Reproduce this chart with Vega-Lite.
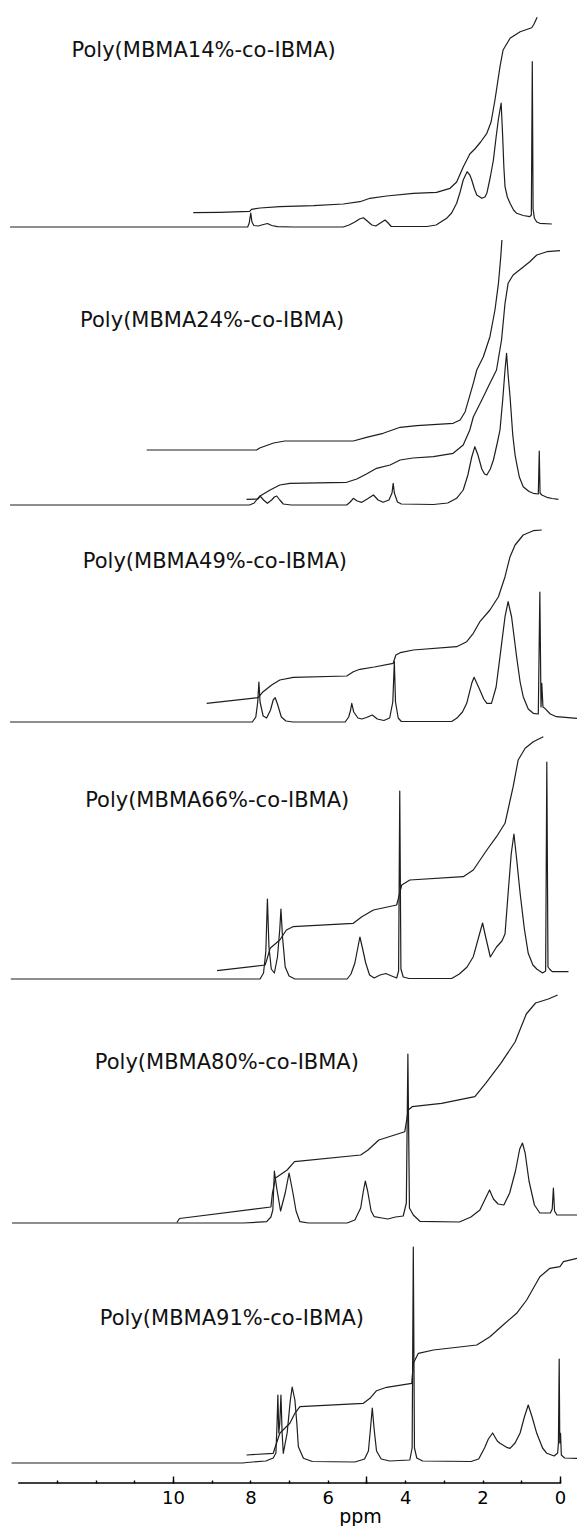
{
"$schema": "https://vega.github.io/schema/vega-lite/v6.json",
"padding": 0,
"spacing": 0,
"bounds": "flush",
"background": "white",
"config": {"view": {"stroke": null}, "font": "DejaVu Sans", "line": {"strokeJoin": "round"}},
"datasets": {
"labels": [
{"sample":"14%","label":"Poly(MBMA14%-co-IBMA)"},
{"sample":"24%","label":"Poly(MBMA24%-co-IBMA)"},
{"sample":"49%","label":"Poly(MBMA49%-co-IBMA)"},
{"sample":"66%","label":"Poly(MBMA66%-co-IBMA)"},
{"sample":"80%","label":"Poly(MBMA80%-co-IBMA)"},
{"sample":"91%","label":"Poly(MBMA91%-co-IBMA)"}
],
"nmr": [
{"sample":"14%","trace":"spectrum","ppm":14.21,"signal":0},
{"sample":"14%","trace":"spectrum","ppm":8.07,"signal":0},
{"sample":"14%","trace":"spectrum","ppm":8.03,"signal":4},
{"sample":"14%","trace":"spectrum","ppm":7.99,"signal":14},
{"sample":"14%","trace":"spectrum","ppm":7.96,"signal":5},
{"sample":"14%","trace":"spectrum","ppm":7.91,"signal":1.5},
{"sample":"14%","trace":"spectrum","ppm":7.8,"signal":1},
{"sample":"14%","trace":"spectrum","ppm":7.66,"signal":2.5},
{"sample":"14%","trace":"spectrum","ppm":7.56,"signal":3.5},
{"sample":"14%","trace":"spectrum","ppm":7.45,"signal":1.5},
{"sample":"14%","trace":"spectrum","ppm":7.3,"signal":0.3},
{"sample":"14%","trace":"spectrum","ppm":6.9,"signal":0},
{"sample":"14%","trace":"spectrum","ppm":5.6,"signal":0},
{"sample":"14%","trace":"spectrum","ppm":5.45,"signal":2},
{"sample":"14%","trace":"spectrum","ppm":5.3,"signal":5},
{"sample":"14%","trace":"spectrum","ppm":5.18,"signal":8},
{"sample":"14%","trace":"spectrum","ppm":5.08,"signal":9.3},
{"sample":"14%","trace":"spectrum","ppm":4.98,"signal":6},
{"sample":"14%","trace":"spectrum","ppm":4.86,"signal":2},
{"sample":"14%","trace":"spectrum","ppm":4.76,"signal":1},
{"sample":"14%","trace":"spectrum","ppm":4.64,"signal":4},
{"sample":"14%","trace":"spectrum","ppm":4.52,"signal":7},
{"sample":"14%","trace":"spectrum","ppm":4.44,"signal":4},
{"sample":"14%","trace":"spectrum","ppm":4.36,"signal":0.5},
{"sample":"14%","trace":"spectrum","ppm":3.44,"signal":0.5},
{"sample":"14%","trace":"spectrum","ppm":3.2,"signal":2},
{"sample":"14%","trace":"spectrum","ppm":2.93,"signal":8.7},
{"sample":"14%","trace":"spectrum","ppm":2.8,"signal":14},
{"sample":"14%","trace":"spectrum","ppm":2.67,"signal":23.7},
{"sample":"14%","trace":"spectrum","ppm":2.58,"signal":35},
{"sample":"14%","trace":"spectrum","ppm":2.5,"signal":47},
{"sample":"14%","trace":"spectrum","ppm":2.4,"signal":55.3},
{"sample":"14%","trace":"spectrum","ppm":2.33,"signal":52},
{"sample":"14%","trace":"spectrum","ppm":2.28,"signal":47},
{"sample":"14%","trace":"spectrum","ppm":2.21,"signal":38},
{"sample":"14%","trace":"spectrum","ppm":2.15,"signal":32},
{"sample":"14%","trace":"spectrum","ppm":2.02,"signal":28.7},
{"sample":"14%","trace":"spectrum","ppm":1.94,"signal":30},
{"sample":"14%","trace":"spectrum","ppm":1.89,"signal":33.7},
{"sample":"14%","trace":"spectrum","ppm":1.8,"signal":50},
{"sample":"14%","trace":"spectrum","ppm":1.72,"signal":67},
{"sample":"14%","trace":"spectrum","ppm":1.65,"signal":90},
{"sample":"14%","trace":"spectrum","ppm":1.59,"signal":108},
{"sample":"14%","trace":"spectrum","ppm":1.52,"signal":124},
{"sample":"14%","trace":"spectrum","ppm":1.48,"signal":90},
{"sample":"14%","trace":"spectrum","ppm":1.45,"signal":60},
{"sample":"14%","trace":"spectrum","ppm":1.42,"signal":40.3},
{"sample":"14%","trace":"spectrum","ppm":1.36,"signal":30},
{"sample":"14%","trace":"spectrum","ppm":1.29,"signal":23.7},
{"sample":"14%","trace":"spectrum","ppm":1.2,"signal":17},
{"sample":"14%","trace":"spectrum","ppm":1.12,"signal":13.7},
{"sample":"14%","trace":"spectrum","ppm":0.95,"signal":11.5},
{"sample":"14%","trace":"spectrum","ppm":0.78,"signal":10.3},
{"sample":"14%","trace":"spectrum","ppm":0.74,"signal":12},
{"sample":"14%","trace":"spectrum","ppm":0.715,"signal":165.3},
{"sample":"14%","trace":"spectrum","ppm":0.695,"signal":18},
{"sample":"14%","trace":"spectrum","ppm":0.66,"signal":8.7},
{"sample":"14%","trace":"spectrum","ppm":0.6,"signal":5},
{"sample":"14%","trace":"spectrum","ppm":0.52,"signal":3.7},
{"sample":"14%","trace":"spectrum","ppm":0.21,"signal":3},
{"sample":"14%","trace":"integral","ppm":9.475,"signal":14.3},
{"sample":"14%","trace":"integral","ppm":8.79,"signal":14.7},
{"sample":"14%","trace":"integral","ppm":8.02,"signal":15.7},
{"sample":"14%","trace":"integral","ppm":7.97,"signal":17.7},
{"sample":"14%","trace":"integral","ppm":7.75,"signal":19},
{"sample":"14%","trace":"integral","ppm":7.24,"signal":20.3},
{"sample":"14%","trace":"integral","ppm":6.37,"signal":21.3},
{"sample":"14%","trace":"integral","ppm":5.6,"signal":23},
{"sample":"14%","trace":"integral","ppm":5.17,"signal":25.3},
{"sample":"14%","trace":"integral","ppm":4.91,"signal":28.7},
{"sample":"14%","trace":"integral","ppm":4.48,"signal":31},
{"sample":"14%","trace":"integral","ppm":3.79,"signal":33.7},
{"sample":"14%","trace":"integral","ppm":3.19,"signal":34.7},
{"sample":"14%","trace":"integral","ppm":2.84,"signal":38.7},
{"sample":"14%","trace":"integral","ppm":2.67,"signal":45},
{"sample":"14%","trace":"integral","ppm":2.5,"signal":60},
{"sample":"14%","trace":"integral","ppm":2.33,"signal":73},
{"sample":"14%","trace":"integral","ppm":2.2,"signal":78},
{"sample":"14%","trace":"integral","ppm":2.05,"signal":85},
{"sample":"14%","trace":"integral","ppm":1.89,"signal":93.7},
{"sample":"14%","trace":"integral","ppm":1.78,"signal":105},
{"sample":"14%","trace":"integral","ppm":1.68,"signal":127},
{"sample":"14%","trace":"integral","ppm":1.55,"signal":160.3},
{"sample":"14%","trace":"integral","ppm":1.47,"signal":177},
{"sample":"14%","trace":"integral","ppm":1.29,"signal":188.7},
{"sample":"14%","trace":"integral","ppm":1.03,"signal":195.3},
{"sample":"14%","trace":"integral","ppm":0.73,"signal":199.3},
{"sample":"14%","trace":"integral","ppm":0.67,"signal":203},
{"sample":"14%","trace":"integral","ppm":0.59,"signal":209.7},

{"sample":"24%","trace":"spectrum","ppm":14.21,"signal":0},
{"sample":"24%","trace":"spectrum","ppm":8.02,"signal":0},
{"sample":"24%","trace":"spectrum","ppm":7.9,"signal":2},
{"sample":"24%","trace":"spectrum","ppm":7.82,"signal":6},
{"sample":"24%","trace":"spectrum","ppm":7.75,"signal":9},
{"sample":"24%","trace":"spectrum","ppm":7.66,"signal":5},
{"sample":"24%","trace":"spectrum","ppm":7.56,"signal":1.7},
{"sample":"24%","trace":"spectrum","ppm":7.45,"signal":5},
{"sample":"24%","trace":"spectrum","ppm":7.38,"signal":8},
{"sample":"24%","trace":"spectrum","ppm":7.32,"signal":9},
{"sample":"24%","trace":"spectrum","ppm":7.24,"signal":5},
{"sample":"24%","trace":"spectrum","ppm":7.15,"signal":1},
{"sample":"24%","trace":"spectrum","ppm":6.95,"signal":0},
{"sample":"24%","trace":"spectrum","ppm":5.51,"signal":0},
{"sample":"24%","trace":"spectrum","ppm":5.42,"signal":3},
{"sample":"24%","trace":"spectrum","ppm":5.34,"signal":6.7},
{"sample":"24%","trace":"spectrum","ppm":5.24,"signal":4},
{"sample":"24%","trace":"spectrum","ppm":5.12,"signal":2.7},
{"sample":"24%","trace":"spectrum","ppm":4.98,"signal":6},
{"sample":"24%","trace":"spectrum","ppm":4.82,"signal":10},
{"sample":"24%","trace":"spectrum","ppm":4.7,"signal":5},
{"sample":"24%","trace":"spectrum","ppm":4.57,"signal":2.7},
{"sample":"24%","trace":"spectrum","ppm":4.42,"signal":5},
{"sample":"24%","trace":"spectrum","ppm":4.34,"signal":12},
{"sample":"24%","trace":"spectrum","ppm":4.31,"signal":21.7},
{"sample":"24%","trace":"spectrum","ppm":4.28,"signal":12},
{"sample":"24%","trace":"spectrum","ppm":4.2,"signal":3},
{"sample":"24%","trace":"spectrum","ppm":4.1,"signal":1},
{"sample":"24%","trace":"spectrum","ppm":3.27,"signal":0.5},
{"sample":"24%","trace":"spectrum","ppm":2.9,"signal":2},
{"sample":"24%","trace":"spectrum","ppm":2.67,"signal":6.7},
{"sample":"24%","trace":"spectrum","ppm":2.5,"signal":15},
{"sample":"24%","trace":"spectrum","ppm":2.38,"signal":30},
{"sample":"24%","trace":"spectrum","ppm":2.28,"signal":48},
{"sample":"24%","trace":"spectrum","ppm":2.2,"signal":58.3},
{"sample":"24%","trace":"spectrum","ppm":2.12,"signal":50},
{"sample":"24%","trace":"spectrum","ppm":2.02,"signal":36},
{"sample":"24%","trace":"spectrum","ppm":1.95,"signal":31},
{"sample":"24%","trace":"spectrum","ppm":1.89,"signal":30},
{"sample":"24%","trace":"spectrum","ppm":1.8,"signal":36},
{"sample":"24%","trace":"spectrum","ppm":1.72,"signal":45},
{"sample":"24%","trace":"spectrum","ppm":1.62,"signal":62},
{"sample":"24%","trace":"spectrum","ppm":1.55,"signal":75},
{"sample":"24%","trace":"spectrum","ppm":1.48,"signal":105},
{"sample":"24%","trace":"spectrum","ppm":1.42,"signal":135},
{"sample":"24%","trace":"spectrum","ppm":1.38,"signal":151.7},
{"sample":"24%","trace":"spectrum","ppm":1.34,"signal":130},
{"sample":"24%","trace":"spectrum","ppm":1.29,"signal":108.3},
{"sample":"24%","trace":"spectrum","ppm":1.22,"signal":70},
{"sample":"24%","trace":"spectrum","ppm":1.16,"signal":50},
{"sample":"24%","trace":"spectrum","ppm":1.12,"signal":41.7},
{"sample":"24%","trace":"spectrum","ppm":1.05,"signal":28},
{"sample":"24%","trace":"spectrum","ppm":0.95,"signal":18.3},
{"sample":"24%","trace":"spectrum","ppm":0.8,"signal":13.5},
{"sample":"24%","trace":"spectrum","ppm":0.69,"signal":11.7},
{"sample":"24%","trace":"spectrum","ppm":0.56,"signal":11},
{"sample":"24%","trace":"spectrum","ppm":0.535,"signal":54},
{"sample":"24%","trace":"spectrum","ppm":0.515,"signal":12},
{"sample":"24%","trace":"spectrum","ppm":0.47,"signal":10},
{"sample":"24%","trace":"spectrum","ppm":0.34,"signal":7.7},
{"sample":"24%","trace":"spectrum","ppm":0.2,"signal":6.5},
{"sample":"24%","trace":"spectrum","ppm":0.04,"signal":5.7},
{"sample":"24%","trace":"integral","ppm":10.68,"signal":55},
{"sample":"24%","trace":"integral","ppm":7.84,"signal":55},
{"sample":"24%","trace":"integral","ppm":7.76,"signal":57},
{"sample":"24%","trace":"integral","ppm":7.67,"signal":58.3},
{"sample":"24%","trace":"integral","ppm":7.4,"signal":62},
{"sample":"24%","trace":"integral","ppm":7.11,"signal":64},
{"sample":"24%","trace":"integral","ppm":5.34,"signal":64},
{"sample":"24%","trace":"integral","ppm":5.0,"signal":67.7},
{"sample":"24%","trace":"integral","ppm":4.57,"signal":71.7},
{"sample":"24%","trace":"integral","ppm":4.13,"signal":77.7},
{"sample":"24%","trace":"integral","ppm":3.7,"signal":79.3},
{"sample":"24%","trace":"integral","ppm":2.76,"signal":81.7},
{"sample":"24%","trace":"integral","ppm":2.58,"signal":85},
{"sample":"24%","trace":"integral","ppm":2.45,"signal":93.3},
{"sample":"24%","trace":"integral","ppm":2.24,"signal":121.7},
{"sample":"24%","trace":"integral","ppm":2.15,"signal":135},
{"sample":"24%","trace":"integral","ppm":1.98,"signal":148.3},
{"sample":"24%","trace":"integral","ppm":1.81,"signal":168.3},
{"sample":"24%","trace":"integral","ppm":1.68,"signal":195},
{"sample":"24%","trace":"integral","ppm":1.59,"signal":221.7},
{"sample":"24%","trace":"integral","ppm":1.53,"signal":248.3},
{"sample":"24%","trace":"integral","ppm":1.5,"signal":265},
{"sample":"24%","trace":"integral 2","ppm":8.1,"signal":5.7},
{"sample":"24%","trace":"integral 2","ppm":7.8,"signal":6},
{"sample":"24%","trace":"integral 2","ppm":7.75,"signal":9},
{"sample":"24%","trace":"integral 2","ppm":7.62,"signal":12},
{"sample":"24%","trace":"integral 2","ppm":7.49,"signal":15},
{"sample":"24%","trace":"integral 2","ppm":7.24,"signal":20},
{"sample":"24%","trace":"integral 2","ppm":6.98,"signal":21.7},
{"sample":"24%","trace":"integral 2","ppm":5.51,"signal":22.7},
{"sample":"24%","trace":"integral 2","ppm":5.25,"signal":26},
{"sample":"24%","trace":"integral 2","ppm":5.0,"signal":31},
{"sample":"24%","trace":"integral 2","ppm":4.74,"signal":36.7},
{"sample":"24%","trace":"integral 2","ppm":4.39,"signal":40},
{"sample":"24%","trace":"integral 2","ppm":4.13,"signal":45},
{"sample":"24%","trace":"integral 2","ppm":3.8,"signal":47},
{"sample":"24%","trace":"integral 2","ppm":3.27,"signal":48.3},
{"sample":"24%","trace":"integral 2","ppm":2.76,"signal":51.7},
{"sample":"24%","trace":"integral 2","ppm":2.5,"signal":60},
{"sample":"24%","trace":"integral 2","ppm":2.33,"signal":75},
{"sample":"24%","trace":"integral 2","ppm":2.24,"signal":88},
{"sample":"24%","trace":"integral 2","ppm":2.02,"signal":105},
{"sample":"24%","trace":"integral 2","ppm":1.81,"signal":121.7},
{"sample":"24%","trace":"integral 2","ppm":1.64,"signal":135},
{"sample":"24%","trace":"integral 2","ppm":1.51,"signal":165},
{"sample":"24%","trace":"integral 2","ppm":1.42,"signal":201.7},
{"sample":"24%","trace":"integral 2","ppm":1.34,"signal":221.7},
{"sample":"24%","trace":"integral 2","ppm":1.21,"signal":230},
{"sample":"24%","trace":"integral 2","ppm":0.99,"signal":236.7},
{"sample":"24%","trace":"integral 2","ppm":0.78,"signal":243.3},
{"sample":"24%","trace":"integral 2","ppm":0.6,"signal":250},
{"sample":"24%","trace":"integral 2","ppm":0.34,"signal":253.3},
{"sample":"24%","trace":"integral 2","ppm":0.0,"signal":254.3},

{"sample":"49%","trace":"spectrum","ppm":14.21,"signal":0},
{"sample":"49%","trace":"spectrum","ppm":7.95,"signal":0},
{"sample":"49%","trace":"spectrum","ppm":7.86,"signal":5},
{"sample":"49%","trace":"spectrum","ppm":7.81,"signal":20},
{"sample":"49%","trace":"spectrum","ppm":7.78,"signal":40},
{"sample":"49%","trace":"spectrum","ppm":7.75,"signal":20},
{"sample":"49%","trace":"spectrum","ppm":7.67,"signal":6},
{"sample":"49%","trace":"spectrum","ppm":7.58,"signal":4},
{"sample":"49%","trace":"spectrum","ppm":7.48,"signal":12},
{"sample":"49%","trace":"spectrum","ppm":7.41,"signal":22},
{"sample":"49%","trace":"spectrum","ppm":7.36,"signal":24.3},
{"sample":"49%","trace":"spectrum","ppm":7.3,"signal":18},
{"sample":"49%","trace":"spectrum","ppm":7.2,"signal":5},
{"sample":"49%","trace":"spectrum","ppm":7.08,"signal":1},
{"sample":"49%","trace":"spectrum","ppm":6.9,"signal":0},
{"sample":"49%","trace":"spectrum","ppm":5.55,"signal":0},
{"sample":"49%","trace":"spectrum","ppm":5.46,"signal":5},
{"sample":"49%","trace":"spectrum","ppm":5.41,"signal":12},
{"sample":"49%","trace":"spectrum","ppm":5.38,"signal":18.7},
{"sample":"49%","trace":"spectrum","ppm":5.33,"signal":10},
{"sample":"49%","trace":"spectrum","ppm":5.22,"signal":4},
{"sample":"49%","trace":"spectrum","ppm":5.12,"signal":3},
{"sample":"49%","trace":"spectrum","ppm":5.0,"signal":4.5},
{"sample":"49%","trace":"spectrum","ppm":4.85,"signal":7},
{"sample":"49%","trace":"spectrum","ppm":4.72,"signal":3},
{"sample":"49%","trace":"spectrum","ppm":4.55,"signal":1.5},
{"sample":"49%","trace":"spectrum","ppm":4.4,"signal":4},
{"sample":"49%","trace":"spectrum","ppm":4.32,"signal":20},
{"sample":"49%","trace":"spectrum","ppm":4.28,"signal":60.3},
{"sample":"49%","trace":"spectrum","ppm":4.25,"signal":20},
{"sample":"49%","trace":"spectrum","ppm":4.18,"signal":4},
{"sample":"49%","trace":"spectrum","ppm":4.1,"signal":0.5},
{"sample":"49%","trace":"spectrum","ppm":2.8,"signal":0.5},
{"sample":"49%","trace":"spectrum","ppm":2.67,"signal":3.7},
{"sample":"49%","trace":"spectrum","ppm":2.52,"signal":10},
{"sample":"49%","trace":"spectrum","ppm":2.41,"signal":18.7},
{"sample":"49%","trace":"spectrum","ppm":2.28,"signal":38.7},
{"sample":"49%","trace":"spectrum","ppm":2.22,"signal":44.7},
{"sample":"49%","trace":"spectrum","ppm":2.14,"signal":38},
{"sample":"49%","trace":"spectrum","ppm":2.07,"signal":32},
{"sample":"49%","trace":"spectrum","ppm":1.97,"signal":23},
{"sample":"49%","trace":"spectrum","ppm":1.89,"signal":18.7},
{"sample":"49%","trace":"spectrum","ppm":1.77,"signal":18.7},
{"sample":"49%","trace":"spectrum","ppm":1.65,"signal":35},
{"sample":"49%","trace":"spectrum","ppm":1.55,"signal":65.3},
{"sample":"49%","trace":"spectrum","ppm":1.42,"signal":105.3},
{"sample":"49%","trace":"spectrum","ppm":1.34,"signal":120.3},
{"sample":"49%","trace":"spectrum","ppm":1.25,"signal":105},
{"sample":"49%","trace":"spectrum","ppm":1.12,"signal":65},
{"sample":"49%","trace":"spectrum","ppm":1.03,"signal":40},
{"sample":"49%","trace":"spectrum","ppm":0.95,"signal":25.3},
{"sample":"49%","trace":"spectrum","ppm":0.82,"signal":13},
{"sample":"49%","trace":"spectrum","ppm":0.69,"signal":8.7},
{"sample":"49%","trace":"spectrum","ppm":0.56,"signal":8},
{"sample":"49%","trace":"spectrum","ppm":0.52,"signal":130},
{"sample":"49%","trace":"spectrum","ppm":0.49,"signal":15},
{"sample":"49%","trace":"spectrum","ppm":0.47,"signal":38.7},
{"sample":"49%","trace":"spectrum","ppm":0.44,"signal":15},
{"sample":"49%","trace":"spectrum","ppm":0.39,"signal":13.7},
{"sample":"49%","trace":"spectrum","ppm":0.25,"signal":8},
{"sample":"49%","trace":"spectrum","ppm":0.09,"signal":5.3},
{"sample":"49%","trace":"spectrum","ppm":-0.44,"signal":3.7},
{"sample":"49%","trace":"integral","ppm":9.13,"signal":18.7},
{"sample":"49%","trace":"integral","ppm":7.8,"signal":24.3},
{"sample":"49%","trace":"integral","ppm":7.67,"signal":30.3},
{"sample":"49%","trace":"integral","ppm":7.45,"signal":37},
{"sample":"49%","trace":"integral","ppm":7.24,"signal":42},
{"sample":"49%","trace":"integral","ppm":6.89,"signal":44.7},
{"sample":"49%","trace":"integral","ppm":5.51,"signal":46},
{"sample":"49%","trace":"integral","ppm":5.34,"signal":50.3},
{"sample":"49%","trace":"integral","ppm":5.17,"signal":52.7},
{"sample":"49%","trace":"integral","ppm":4.8,"signal":55},
{"sample":"49%","trace":"integral","ppm":4.31,"signal":58.7},
{"sample":"49%","trace":"integral","ppm":4.24,"signal":67},
{"sample":"49%","trace":"integral","ppm":4.13,"signal":69.3},
{"sample":"49%","trace":"integral","ppm":3.79,"signal":72},
{"sample":"49%","trace":"integral","ppm":2.67,"signal":75.3},
{"sample":"49%","trace":"integral","ppm":2.41,"signal":80.3},
{"sample":"49%","trace":"integral","ppm":2.24,"signal":88.7},
{"sample":"49%","trace":"integral","ppm":2.07,"signal":100.3},
{"sample":"49%","trace":"integral","ppm":1.81,"signal":112},
{"sample":"49%","trace":"integral","ppm":1.59,"signal":125.3},
{"sample":"49%","trace":"integral","ppm":1.42,"signal":145.3},
{"sample":"49%","trace":"integral","ppm":1.29,"signal":165.3},
{"sample":"49%","trace":"integral","ppm":1.16,"signal":177},
{"sample":"49%","trace":"integral","ppm":0.95,"signal":187},
{"sample":"49%","trace":"integral","ppm":0.69,"signal":191.3},
{"sample":"49%","trace":"integral","ppm":0.47,"signal":192},

{"sample":"66%","trace":"spectrum","ppm":14.19,"signal":0},
{"sample":"66%","trace":"spectrum","ppm":7.75,"signal":0},
{"sample":"66%","trace":"spectrum","ppm":7.66,"signal":6},
{"sample":"66%","trace":"spectrum","ppm":7.6,"signal":28},
{"sample":"66%","trace":"spectrum","ppm":7.56,"signal":80},
{"sample":"66%","trace":"spectrum","ppm":7.52,"signal":32},
{"sample":"66%","trace":"spectrum","ppm":7.46,"signal":10},
{"sample":"66%","trace":"spectrum","ppm":7.38,"signal":6},
{"sample":"66%","trace":"spectrum","ppm":7.3,"signal":22},
{"sample":"66%","trace":"spectrum","ppm":7.24,"signal":50},
{"sample":"66%","trace":"spectrum","ppm":7.21,"signal":70},
{"sample":"66%","trace":"spectrum","ppm":7.17,"signal":42},
{"sample":"66%","trace":"spectrum","ppm":7.1,"signal":12},
{"sample":"66%","trace":"spectrum","ppm":7.0,"signal":3},
{"sample":"66%","trace":"spectrum","ppm":6.85,"signal":0},
{"sample":"66%","trace":"spectrum","ppm":5.5,"signal":0},
{"sample":"66%","trace":"spectrum","ppm":5.4,"signal":5},
{"sample":"66%","trace":"spectrum","ppm":5.3,"signal":16},
{"sample":"66%","trace":"spectrum","ppm":5.22,"signal":32},
{"sample":"66%","trace":"spectrum","ppm":5.17,"signal":42},
{"sample":"66%","trace":"spectrum","ppm":5.11,"signal":32},
{"sample":"66%","trace":"spectrum","ppm":5.02,"signal":16},
{"sample":"66%","trace":"spectrum","ppm":4.92,"signal":4},
{"sample":"66%","trace":"spectrum","ppm":4.8,"signal":1},
{"sample":"66%","trace":"spectrum","ppm":4.65,"signal":4},
{"sample":"66%","trace":"spectrum","ppm":4.5,"signal":5.5},
{"sample":"66%","trace":"spectrum","ppm":4.35,"signal":3},
{"sample":"66%","trace":"spectrum","ppm":4.22,"signal":1},
{"sample":"66%","trace":"spectrum","ppm":4.17,"signal":8},
{"sample":"66%","trace":"spectrum","ppm":4.14,"signal":188},
{"sample":"66%","trace":"spectrum","ppm":4.11,"signal":10},
{"sample":"66%","trace":"spectrum","ppm":4.05,"signal":2},
{"sample":"66%","trace":"spectrum","ppm":3.9,"signal":0.5},
{"sample":"66%","trace":"spectrum","ppm":2.8,"signal":0.5},
{"sample":"66%","trace":"spectrum","ppm":2.6,"signal":5},
{"sample":"66%","trace":"spectrum","ppm":2.4,"signal":12},
{"sample":"66%","trace":"spectrum","ppm":2.24,"signal":22.3},
{"sample":"66%","trace":"spectrum","ppm":2.1,"signal":42},
{"sample":"66%","trace":"spectrum","ppm":2.0,"signal":56},
{"sample":"66%","trace":"spectrum","ppm":1.92,"signal":42},
{"sample":"66%","trace":"spectrum","ppm":1.8,"signal":22},
{"sample":"66%","trace":"spectrum","ppm":1.64,"signal":32},
{"sample":"66%","trace":"spectrum","ppm":1.5,"signal":38},
{"sample":"66%","trace":"spectrum","ppm":1.42,"signal":45},
{"sample":"66%","trace":"spectrum","ppm":1.34,"signal":85.7},
{"sample":"66%","trace":"spectrum","ppm":1.26,"signal":125},
{"sample":"66%","trace":"spectrum","ppm":1.19,"signal":145},
{"sample":"66%","trace":"spectrum","ppm":1.12,"signal":120},
{"sample":"66%","trace":"spectrum","ppm":1.03,"signal":85.7},
{"sample":"66%","trace":"spectrum","ppm":0.92,"signal":50},
{"sample":"66%","trace":"spectrum","ppm":0.82,"signal":25.7},
{"sample":"66%","trace":"spectrum","ppm":0.7,"signal":14},
{"sample":"66%","trace":"spectrum","ppm":0.6,"signal":10},
{"sample":"66%","trace":"spectrum","ppm":0.45,"signal":6},
{"sample":"66%","trace":"spectrum","ppm":0.37,"signal":8},
{"sample":"66%","trace":"spectrum","ppm":0.34,"signal":217},
{"sample":"66%","trace":"spectrum","ppm":0.31,"signal":12},
{"sample":"66%","trace":"spectrum","ppm":0.27,"signal":10},
{"sample":"66%","trace":"spectrum","ppm":0.2,"signal":7.3},
{"sample":"66%","trace":"spectrum","ppm":-0.22,"signal":7.3},
{"sample":"66%","trace":"integral","ppm":8.86,"signal":8.3},
{"sample":"66%","trace":"integral","ppm":7.62,"signal":14},
{"sample":"66%","trace":"integral","ppm":7.57,"signal":20},
{"sample":"66%","trace":"integral","ppm":7.49,"signal":30.7},
{"sample":"66%","trace":"integral","ppm":7.24,"signal":39},
{"sample":"66%","trace":"integral","ppm":7.07,"signal":49},
{"sample":"66%","trace":"integral","ppm":6.9,"signal":52.3},
{"sample":"66%","trace":"integral","ppm":5.34,"signal":55.7},
{"sample":"66%","trace":"integral","ppm":5.12,"signal":62.3},
{"sample":"66%","trace":"integral","ppm":4.82,"signal":69},
{"sample":"66%","trace":"integral","ppm":4.22,"signal":74},
{"sample":"66%","trace":"integral","ppm":4.13,"signal":87.3},
{"sample":"66%","trace":"integral","ppm":4.09,"signal":94},
{"sample":"66%","trace":"integral","ppm":3.88,"signal":99},
{"sample":"66%","trace":"integral","ppm":2.5,"signal":102.3},
{"sample":"66%","trace":"integral","ppm":2.24,"signal":109},
{"sample":"66%","trace":"integral","ppm":1.89,"signal":129},
{"sample":"66%","trace":"integral","ppm":1.64,"signal":142.3},
{"sample":"66%","trace":"integral","ppm":1.42,"signal":155.7},
{"sample":"66%","trace":"integral","ppm":1.21,"signal":192.3},
{"sample":"66%","trace":"integral","ppm":1.08,"signal":219},
{"sample":"66%","trace":"integral","ppm":0.9,"signal":230.7},
{"sample":"66%","trace":"integral","ppm":0.69,"signal":237.3},
{"sample":"66%","trace":"integral","ppm":0.43,"signal":242.3},

{"sample":"80%","trace":"spectrum","ppm":14.16,"signal":0},
{"sample":"80%","trace":"spectrum","ppm":8.19,"signal":0},
{"sample":"80%","trace":"spectrum","ppm":7.58,"signal":1.3},
{"sample":"80%","trace":"spectrum","ppm":7.47,"signal":6},
{"sample":"80%","trace":"spectrum","ppm":7.42,"signal":13},
{"sample":"80%","trace":"spectrum","ppm":7.38,"signal":52},
{"sample":"80%","trace":"spectrum","ppm":7.32,"signal":35},
{"sample":"80%","trace":"spectrum","ppm":7.22,"signal":12},
{"sample":"80%","trace":"spectrum","ppm":7.1,"signal":30},
{"sample":"80%","trace":"spectrum","ppm":7.0,"signal":50},
{"sample":"80%","trace":"spectrum","ppm":6.9,"signal":30},
{"sample":"80%","trace":"spectrum","ppm":6.82,"signal":12},
{"sample":"80%","trace":"spectrum","ppm":6.72,"signal":1.3},
{"sample":"80%","trace":"spectrum","ppm":6.5,"signal":0},
{"sample":"80%","trace":"spectrum","ppm":5.5,"signal":0},
{"sample":"80%","trace":"spectrum","ppm":5.3,"signal":3},
{"sample":"80%","trace":"spectrum","ppm":5.15,"signal":15},
{"sample":"80%","trace":"spectrum","ppm":5.08,"signal":32},
{"sample":"80%","trace":"spectrum","ppm":5.03,"signal":42},
{"sample":"80%","trace":"spectrum","ppm":4.97,"signal":32},
{"sample":"80%","trace":"spectrum","ppm":4.88,"signal":12},
{"sample":"80%","trace":"spectrum","ppm":4.8,"signal":6.3},
{"sample":"80%","trace":"spectrum","ppm":4.6,"signal":5},
{"sample":"80%","trace":"spectrum","ppm":4.45,"signal":4},
{"sample":"80%","trace":"spectrum","ppm":4.25,"signal":6},
{"sample":"80%","trace":"spectrum","ppm":4.05,"signal":7},
{"sample":"80%","trace":"spectrum","ppm":3.97,"signal":20},
{"sample":"80%","trace":"spectrum","ppm":3.93,"signal":169},
{"sample":"80%","trace":"spectrum","ppm":3.89,"signal":15},
{"sample":"80%","trace":"spectrum","ppm":3.79,"signal":8},
{"sample":"80%","trace":"spectrum","ppm":3.62,"signal":1.7},
{"sample":"80%","trace":"spectrum","ppm":2.6,"signal":1},
{"sample":"80%","trace":"spectrum","ppm":2.3,"signal":6},
{"sample":"80%","trace":"spectrum","ppm":2.07,"signal":13},
{"sample":"80%","trace":"spectrum","ppm":1.92,"signal":25},
{"sample":"80%","trace":"spectrum","ppm":1.82,"signal":33},
{"sample":"80%","trace":"spectrum","ppm":1.72,"signal":24},
{"sample":"80%","trace":"spectrum","ppm":1.6,"signal":19},
{"sample":"80%","trace":"spectrum","ppm":1.45,"signal":18},
{"sample":"80%","trace":"spectrum","ppm":1.3,"signal":30},
{"sample":"80%","trace":"spectrum","ppm":1.15,"signal":52},
{"sample":"80%","trace":"spectrum","ppm":1.04,"signal":74},
{"sample":"80%","trace":"spectrum","ppm":0.97,"signal":80},
{"sample":"80%","trace":"spectrum","ppm":0.9,"signal":70},
{"sample":"80%","trace":"spectrum","ppm":0.8,"signal":42},
{"sample":"80%","trace":"spectrum","ppm":0.66,"signal":18},
{"sample":"80%","trace":"spectrum","ppm":0.52,"signal":10},
{"sample":"80%","trace":"spectrum","ppm":0.25,"signal":10},
{"sample":"80%","trace":"spectrum","ppm":0.2,"signal":14},
{"sample":"80%","trace":"spectrum","ppm":0.17,"signal":35},
{"sample":"80%","trace":"spectrum","ppm":0.14,"signal":12},
{"sample":"80%","trace":"spectrum","ppm":0.08,"signal":8},
{"sample":"80%","trace":"spectrum","ppm":-0.44,"signal":8},
{"sample":"80%","trace":"integral","ppm":9.9,"signal":0.5},
{"sample":"80%","trace":"integral","ppm":9.83,"signal":4.5},
{"sample":"80%","trace":"integral","ppm":7.47,"signal":16},
{"sample":"80%","trace":"integral","ppm":7.43,"signal":30},
{"sample":"80%","trace":"integral","ppm":7.35,"signal":45},
{"sample":"80%","trace":"integral","ppm":7.05,"signal":53},
{"sample":"80%","trace":"integral","ppm":6.86,"signal":61.3},
{"sample":"80%","trace":"integral","ppm":5.15,"signal":68},
{"sample":"80%","trace":"integral","ppm":4.96,"signal":73},
{"sample":"80%","trace":"integral","ppm":4.68,"signal":83},
{"sample":"80%","trace":"integral","ppm":4.01,"signal":91.3},
{"sample":"80%","trace":"integral","ppm":3.92,"signal":113},
{"sample":"80%","trace":"integral","ppm":3.82,"signal":116.3},
{"sample":"80%","trace":"integral","ppm":3.06,"signal":119.7},
{"sample":"80%","trace":"integral","ppm":2.2,"signal":126.3},
{"sample":"80%","trace":"integral","ppm":1.92,"signal":139.7},
{"sample":"80%","trace":"integral","ppm":1.53,"signal":159.7},
{"sample":"80%","trace":"integral","ppm":1.16,"signal":181},
{"sample":"80%","trace":"integral","ppm":0.87,"signal":209},
{"sample":"80%","trace":"integral","ppm":0.63,"signal":220},
{"sample":"80%","trace":"integral","ppm":0.3,"signal":224},
{"sample":"80%","trace":"integral","ppm":0.06,"signal":228},

{"sample":"91%","trace":"spectrum","ppm":14.17,"signal":0},
{"sample":"91%","trace":"spectrum","ppm":8.19,"signal":0},
{"sample":"91%","trace":"spectrum","ppm":8.1,"signal":0.5},
{"sample":"91%","trace":"spectrum","ppm":7.6,"signal":2},
{"sample":"91%","trace":"spectrum","ppm":7.41,"signal":5},
{"sample":"91%","trace":"spectrum","ppm":7.34,"signal":10},
{"sample":"91%","trace":"spectrum","ppm":7.31,"signal":40},
{"sample":"91%","trace":"spectrum","ppm":7.29,"signal":68},
{"sample":"91%","trace":"spectrum","ppm":7.265,"signal":30},
{"sample":"91%","trace":"spectrum","ppm":7.24,"signal":40},
{"sample":"91%","trace":"spectrum","ppm":7.21,"signal":68},
{"sample":"91%","trace":"spectrum","ppm":7.18,"signal":30},
{"sample":"91%","trace":"spectrum","ppm":7.15,"signal":9.7},
{"sample":"91%","trace":"spectrum","ppm":7.05,"signal":30},
{"sample":"91%","trace":"spectrum","ppm":6.97,"signal":62},
{"sample":"91%","trace":"spectrum","ppm":6.92,"signal":76},
{"sample":"91%","trace":"spectrum","ppm":6.85,"signal":63},
{"sample":"91%","trace":"spectrum","ppm":6.8,"signal":40},
{"sample":"91%","trace":"spectrum","ppm":6.76,"signal":16.3},
{"sample":"91%","trace":"spectrum","ppm":6.63,"signal":4.7},
{"sample":"91%","trace":"spectrum","ppm":6.4,"signal":1.5},
{"sample":"91%","trace":"spectrum","ppm":5.3,"signal":1},
{"sample":"91%","trace":"spectrum","ppm":5.05,"signal":4},
{"sample":"91%","trace":"spectrum","ppm":4.95,"signal":12},
{"sample":"91%","trace":"spectrum","ppm":4.9,"signal":33},
{"sample":"91%","trace":"spectrum","ppm":4.85,"signal":55},
{"sample":"91%","trace":"spectrum","ppm":4.8,"signal":33},
{"sample":"91%","trace":"spectrum","ppm":4.74,"signal":12},
{"sample":"91%","trace":"spectrum","ppm":4.62,"signal":4},
{"sample":"91%","trace":"spectrum","ppm":4.4,"signal":2},
{"sample":"91%","trace":"spectrum","ppm":3.88,"signal":3},
{"sample":"91%","trace":"spectrum","ppm":3.82,"signal":15},
{"sample":"91%","trace":"spectrum","ppm":3.79,"signal":216},
{"sample":"91%","trace":"spectrum","ppm":3.76,"signal":15},
{"sample":"91%","trace":"spectrum","ppm":3.7,"signal":5},
{"sample":"91%","trace":"spectrum","ppm":3.55,"signal":2},
{"sample":"91%","trace":"spectrum","ppm":2.3,"signal":1.5},
{"sample":"91%","trace":"spectrum","ppm":2.1,"signal":4},
{"sample":"91%","trace":"spectrum","ppm":1.95,"signal":15},
{"sample":"91%","trace":"spectrum","ppm":1.85,"signal":24},
{"sample":"91%","trace":"spectrum","ppm":1.74,"signal":30},
{"sample":"91%","trace":"spectrum","ppm":1.62,"signal":22},
{"sample":"91%","trace":"spectrum","ppm":1.55,"signal":19.7},
{"sample":"91%","trace":"spectrum","ppm":1.38,"signal":15.7},
{"sample":"91%","trace":"spectrum","ppm":1.29,"signal":14.7},
{"sample":"91%","trace":"spectrum","ppm":1.16,"signal":20},
{"sample":"91%","trace":"spectrum","ppm":1.03,"signal":30},
{"sample":"91%","trace":"spectrum","ppm":0.92,"signal":46},
{"sample":"91%","trace":"spectrum","ppm":0.82,"signal":58},
{"sample":"91%","trace":"spectrum","ppm":0.72,"signal":46},
{"sample":"91%","trace":"spectrum","ppm":0.6,"signal":29.7},
{"sample":"91%","trace":"spectrum","ppm":0.45,"signal":15},
{"sample":"91%","trace":"spectrum","ppm":0.34,"signal":9.7},
{"sample":"91%","trace":"spectrum","ppm":0.15,"signal":7},
{"sample":"91%","trace":"spectrum","ppm":0.06,"signal":10},
{"sample":"91%","trace":"spectrum","ppm":0.04,"signal":20},
{"sample":"91%","trace":"spectrum","ppm":0.02,"signal":104},
{"sample":"91%","trace":"spectrum","ppm":0.005,"signal":20},
{"sample":"91%","trace":"spectrum","ppm":-0.015,"signal":29.7},
{"sample":"91%","trace":"spectrum","ppm":-0.035,"signal":8},
{"sample":"91%","trace":"spectrum","ppm":-0.12,"signal":5},
{"sample":"91%","trace":"spectrum","ppm":-0.44,"signal":4.7},
{"sample":"91%","trace":"integral","ppm":8.1,"signal":8},
{"sample":"91%","trace":"integral","ppm":7.41,"signal":9.7},
{"sample":"91%","trace":"integral","ppm":7.24,"signal":29.7},
{"sample":"91%","trace":"integral","ppm":6.98,"signal":39.7},
{"sample":"91%","trace":"integral","ppm":6.85,"signal":49.7},
{"sample":"91%","trace":"integral","ppm":6.72,"signal":56.3},
{"sample":"91%","trace":"integral","ppm":5.08,"signal":59.7},
{"sample":"91%","trace":"integral","ppm":4.91,"signal":64.7},
{"sample":"91%","trace":"integral","ppm":4.74,"signal":72.3},
{"sample":"91%","trace":"integral","ppm":4.48,"signal":75.7},
{"sample":"91%","trace":"integral","ppm":3.83,"signal":79.7},
{"sample":"91%","trace":"integral","ppm":3.79,"signal":99.7},
{"sample":"91%","trace":"integral","ppm":3.66,"signal":109.7},
{"sample":"91%","trace":"integral","ppm":3.27,"signal":113},
{"sample":"91%","trace":"integral","ppm":2.15,"signal":118},
{"sample":"91%","trace":"integral","ppm":1.81,"signal":126.3},
{"sample":"91%","trace":"integral","ppm":1.47,"signal":138},
{"sample":"91%","trace":"integral","ppm":1.12,"signal":149.7},
{"sample":"91%","trace":"integral","ppm":0.86,"signal":163},
{"sample":"91%","trace":"integral","ppm":0.52,"signal":186.3},
{"sample":"91%","trace":"integral","ppm":0.26,"signal":194.7},
{"sample":"91%","trace":"integral","ppm":0.0,"signal":196.3},
{"sample":"91%","trace":"integral","ppm":-0.09,"signal":201.3},
{"sample":"91%","trace":"integral","ppm":-0.44,"signal":204.7}
]
},
"vconcat": [
{"width": 577, "height": 227, "layer": [
 {"data": {"name": "nmr"}, "transform": [{"filter": "datum.sample === '14%'"}],
  "mark": {"type": "line", "color": "#1e1e1e", "strokeWidth": 1.2},
  "encoding": {"x": {"field": "ppm", "type": "quantitative", "scale": {"domain": [-0.44, 14.47], "reverse": true, "nice": false, "zero": false}, "axis": null},
   "y": {"field": "signal", "type": "quantitative", "scale": {"domain": [0, 227], "nice": false, "zero": false}, "axis": null},
   "detail": {"field": "trace"}}},
 {"data": {"name": "labels"}, "transform": [{"filter": "datum.sample === '14%'"}],
  "mark": {"type": "text", "align": "left", "baseline": "middle", "font": "DejaVu Sans", "fontSize": 21, "color": "#111"},
  "encoding": {"x": {"datum": 12.62, "type": "quantitative", "scale": {"domain": [-0.44, 14.47], "reverse": true, "nice": false, "zero": false}, "axis": null},
   "y": {"datum": 176, "type": "quantitative", "scale": {"domain": [0, 227], "nice": false, "zero": false}, "axis": null},
   "text": {"field": "label"}}}
]},
{"width": 577, "height": 278, "layer": [
 {"data": {"name": "nmr"}, "transform": [{"filter": "datum.sample === '24%'"}],
  "mark": {"type": "line", "color": "#1e1e1e", "strokeWidth": 1.2},
  "encoding": {"x": {"field": "ppm", "type": "quantitative", "scale": {"domain": [-0.44, 14.47], "reverse": true, "nice": false, "zero": false}, "axis": null},
   "y": {"field": "signal", "type": "quantitative", "scale": {"domain": [0, 278], "nice": false, "zero": false}, "axis": null},
   "detail": {"field": "trace"}}},
 {"data": {"name": "labels"}, "transform": [{"filter": "datum.sample === '24%'"}],
  "mark": {"type": "text", "align": "left", "baseline": "middle", "font": "DejaVu Sans", "fontSize": 21, "color": "#111"},
  "encoding": {"x": {"datum": 12.4, "type": "quantitative", "scale": {"domain": [-0.44, 14.47], "reverse": true, "nice": false, "zero": false}, "axis": null},
   "y": {"datum": 183.6, "type": "quantitative", "scale": {"domain": [0, 278], "nice": false, "zero": false}, "axis": null},
   "text": {"field": "label"}}}
]},
{"width": 577, "height": 217, "layer": [
 {"data": {"name": "nmr"}, "transform": [{"filter": "datum.sample === '49%'"}],
  "mark": {"type": "line", "color": "#1e1e1e", "strokeWidth": 1.2},
  "encoding": {"x": {"field": "ppm", "type": "quantitative", "scale": {"domain": [-0.44, 14.47], "reverse": true, "nice": false, "zero": false}, "axis": null},
   "y": {"field": "signal", "type": "quantitative", "scale": {"domain": [0, 217], "nice": false, "zero": false}, "axis": null},
   "detail": {"field": "trace"}}},
 {"data": {"name": "labels"}, "transform": [{"filter": "datum.sample === '49%'"}],
  "mark": {"type": "text", "align": "left", "baseline": "middle", "font": "DejaVu Sans", "fontSize": 21, "color": "#111"},
  "encoding": {"x": {"datum": 12.33, "type": "quantitative", "scale": {"domain": [-0.44, 14.47], "reverse": true, "nice": false, "zero": false}, "axis": null},
   "y": {"datum": 159.6, "type": "quantitative", "scale": {"domain": [0, 217], "nice": false, "zero": false}, "axis": null},
   "text": {"field": "label"}}}
]},
{"width": 577, "height": 257, "layer": [
 {"data": {"name": "nmr"}, "transform": [{"filter": "datum.sample === '66%'"}],
  "mark": {"type": "line", "color": "#1e1e1e", "strokeWidth": 1.2},
  "encoding": {"x": {"field": "ppm", "type": "quantitative", "scale": {"domain": [-0.44, 14.47], "reverse": true, "nice": false, "zero": false}, "axis": null},
   "y": {"field": "signal", "type": "quantitative", "scale": {"domain": [0, 257], "nice": false, "zero": false}, "axis": null},
   "detail": {"field": "trace"}}},
 {"data": {"name": "labels"}, "transform": [{"filter": "datum.sample === '66%'"}],
  "mark": {"type": "text", "align": "left", "baseline": "middle", "font": "DejaVu Sans", "fontSize": 21, "color": "#111"},
  "encoding": {"x": {"datum": 12.27, "type": "quantitative", "scale": {"domain": [-0.44, 14.47], "reverse": true, "nice": false, "zero": false}, "axis": null},
   "y": {"datum": 177.6, "type": "quantitative", "scale": {"domain": [0, 257], "nice": false, "zero": false}, "axis": null},
   "text": {"field": "label"}}}
]},
{"width": 577, "height": 244, "layer": [
 {"data": {"name": "nmr"}, "transform": [{"filter": "datum.sample === '80%'"}],
  "mark": {"type": "line", "color": "#1e1e1e", "strokeWidth": 1.2},
  "encoding": {"x": {"field": "ppm", "type": "quantitative", "scale": {"domain": [-0.44, 14.47], "reverse": true, "nice": false, "zero": false}, "axis": null},
   "y": {"field": "signal", "type": "quantitative", "scale": {"domain": [0, 244], "nice": false, "zero": false}, "axis": null},
   "detail": {"field": "trace"}}},
 {"data": {"name": "labels"}, "transform": [{"filter": "datum.sample === '80%'"}],
  "mark": {"type": "text", "align": "left", "baseline": "middle", "font": "DejaVu Sans", "fontSize": 21, "color": "#111"},
  "encoding": {"x": {"datum": 12.02, "type": "quantitative", "scale": {"domain": [-0.44, 14.47], "reverse": true, "nice": false, "zero": false}, "axis": null},
   "y": {"datum": 159.6, "type": "quantitative", "scale": {"domain": [0, 244], "nice": false, "zero": false}, "axis": null},
   "text": {"field": "label"}}}
]},
{"width": 577, "height": 240, "resolve": {"axis": {"x": "independent"}}, "layer": [
 {"data": {"name": "nmr"}, "transform": [{"filter": "datum.sample === '91%'"}],
  "mark": {"type": "line", "color": "#1e1e1e", "strokeWidth": 1.2},
  "encoding": {"x": {"field": "ppm", "type": "quantitative", "scale": {"domain": [-0.44, 14.47], "reverse": true, "nice": false, "zero": false},
     "axis": {"orient": "bottom", "offset": 20, "values": [0,1,2,3,4,5,6,7,8,9,10,11,12,13], "domain": false, "grid": false, "tickSize": -3, "tickWidth": 1.4, "tickColor": "#000", "format": "d", "labelExpr": "datum.value % 2 === 0 && datum.value <= 10 ? datum.label : ''", "labelFont": "DejaVu Sans", "labelFontSize": 18, "labelColor": "#000", "labelPadding": 9, "labelOverlap": false, "labelFlush": false, "labelBound": false, "title": "ppm", "titleFont": "DejaVu Sans", "titleFontSize": 19, "titleFontWeight": "normal", "titleColor": "#000", "titleX": 360, "titleY": 39, "titleBaseline": "alphabetic", "titleAlign": "center", "titleAngle": 0}},
   "y": {"field": "signal", "type": "quantitative", "scale": {"domain": [0, 240], "nice": false, "zero": false}, "axis": null},
   "detail": {"field": "trace"}}},
 {"data": {"name": "labels"}, "transform": [{"filter": "datum.sample === '91%'"}],
  "mark": {"type": "text", "align": "left", "baseline": "middle", "font": "DejaVu Sans", "fontSize": 21, "color": "#111"},
  "encoding": {"x": {"datum": 11.89, "type": "quantitative", "scale": {"domain": [-0.44, 14.47], "reverse": true, "nice": false, "zero": false}, "axis": null},
   "y": {"datum": 143.6, "type": "quantitative", "scale": {"domain": [0, 240], "nice": false, "zero": false}, "axis": null},
   "text": {"field": "label"}}},
 {"data": {"name": "labels"}, "transform": [{"filter": "datum.sample === '91%'"}],
  "mark": {"type": "rule", "color": "#000", "strokeWidth": 1.5},
  "encoding": {"x": {"datum": 14, "type": "quantitative", "scale": {"domain": [-0.44, 14.47], "reverse": true, "nice": false, "zero": false},
     "axis": {"orient": "bottom", "offset": 20, "values": [0, 5, 10], "domain": false, "grid": false, "tickSize": -7, "tickWidth": 1.4, "tickColor": "#000", "labels": false, "title": null}},
   "x2": {"datum": 0},
   "y": {"datum": -20, "type": "quantitative", "scale": {"domain": [0, 240], "nice": false, "zero": false}, "axis": null}}}
]}
]
}
